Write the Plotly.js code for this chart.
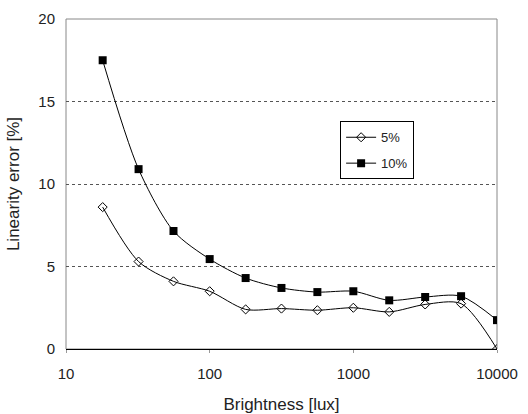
<!DOCTYPE html>
<html><head><meta charset="utf-8">
<script src="https://cdn.plot.ly/plotly-3.0.1.min.js"></script>
<style>body{margin:0;background:#fff}#c{width:528px;height:414px}</style>
</head><body><div id="c"></div>
<script>
const brightness = [18, 32, 56, 100, 178, 316, 562, 1000, 1778, 3162, 5623, 10000];
const err5 = [8.6, 5.3, 4.1, 3.5, 2.4, 2.45, 2.35, 2.5, 2.25, 2.7, 2.75, 0];
const err10 = [17.5, 10.9, 7.15, 5.45, 4.3, 3.7, 3.45, 3.5, 2.95, 3.15, 3.2, 1.75];
const seriesNames = ['5%', '10%'];

const traces = [
  {x: brightness, y: err5, name: seriesNames[0], legendgroup: 'a', mode: 'lines+markers',
   line: {color: '#000', width: 1, shape: 'spline', smoothing: 0.8},
   marker: {symbol: 'diamond-open', size: 7, color: '#000', line: {width: 1}}},
  {x: brightness, y: err10, name: seriesNames[1], legendgroup: 'b', mode: 'lines+markers',
   line: {color: '#000', width: 1, shape: 'spline', smoothing: 0.8},
   marker: {symbol: 'square', size: 8, color: '#000'}}
];

const layout = {
  width: 528, height: 414,
  margin: {l: 66, r: 31, t: 19, b: 65},
  paper_bgcolor: '#fff', plot_bgcolor: '#fff',
  font: {family: 'Liberation Sans, Arial, sans-serif', color: '#222', size: 15},
  showlegend: true,
  legend: {x: 0.636, y: 0.69, xanchor: 'left', yanchor: 'top',
    bordercolor: '#000', borderwidth: 1, bgcolor: '#fff',
    font: {size: 13}, tracegroupgap: 6, itemwidth: 30},
  xaxis: {type: 'log', range: [1, 4], tickvals: [10, 100, 1000, 10000],
    ticktext: ['10', '100', '1000', '10000'],
    showgrid: false, zeroline: false, showline: true, linecolor: '#000', linewidth: 1,
    ticks: 'outside', ticklen: 3, tickcolor: '#999', ticklabelstandoff: 8,
    title: {text: 'Brightness [lux]', font: {size: 17}, standoff: 20}},
  yaxis: {range: [0, 20], tickvals: [0, 5, 10, 15, 20],
    showgrid: true, gridcolor: '#555', griddash: 'dot', gridwidth: 1,
    zeroline: false, showline: false, ticks: '', ticklabelstandoff: 10,
    title: {text: 'Linearity error [%]', font: {size: 17}, standoff: 14}},
  shapes: [{type: 'rect', xref: 'paper', yref: 'paper', x0: 0, x1: 1, y0: 0, y1: 1,
    line: {color: '#888', width: 1}, layer: 'below'}]
};
Plotly.newPlot('c', traces, layout, {displayModeBar: false, staticPlot: true});
</script></body></html>
